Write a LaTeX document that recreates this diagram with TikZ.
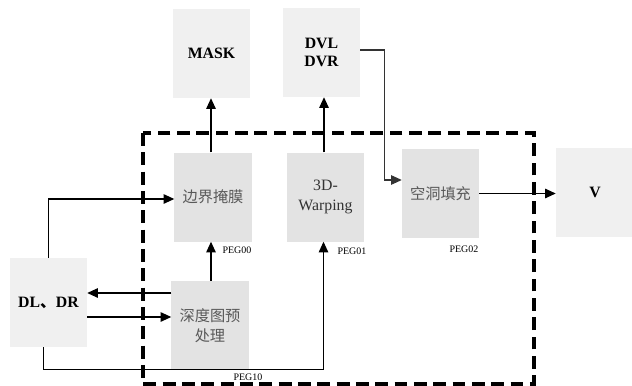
\documentclass[tikz,border=0pt]{standalone}
\usepackage{fontspec}
\setmainfont{Liberation Serif}
\newfontfamily\cjk{Noto Sans CJK SC}
\usetikzlibrary{arrows.meta,calc}
\definecolor{outerbox}{HTML}{F0F0F0}
\definecolor{innerbox}{HTML}{E3E3E3}
\begin{document}
\begin{tikzpicture}[x=0.03cm,y=-0.03cm,
  outer/.style={fill=outerbox,draw=none,minimum width=2.31cm,minimum height=2.67cm,inner sep=0pt,align=center,font=\fontsize{13.5}{15}\selectfont\bfseries},
  inner/.style={fill=innerbox,draw=none,minimum width=2.31cm,minimum height=2.67cm,inner sep=0pt,align=center,text=black!65},
  cn/.style={font=\cjk\fontsize{13}{17}\selectfont},
  arr/.style={line width=1.1pt,-{Triangle[length=9pt,width=8pt]}},
  peg/.style={font=\fontsize{8.5}{9}\selectfont,inner sep=0pt},
  dashbox/.style={line width=2.6pt,dash pattern=on 11pt off 5.5pt}]
\useasboundingbox (0,0) rectangle (632,386);
\fill[white] (0,0) rectangle (632,386);
\node[outer] (mask) at (211.5,53.5) {MASK};
\node[outer] (dvl) at (321.5,52.5) {DVL\\DVR};
\node[inner,cn] (bj) at (213,197) {边界掩膜};
\node[inner,text=black!80,font=\fontsize{13.5}{17}\selectfont] (wp) at (325.5,197) {3D-\\Warping};
\node[inner,cn] (kd) at (440.5,193.5) {空洞填充};
\node[outer,minimum width=2.34cm] (v) at (595,192.5) {V};
\node[outer] (dl) at (48.5,302.5) {DL{\cjk 、}DR};
\node[inner,cn] (sd) at (210,325.5) {深度图预\\处理};
\draw[dashbox] (143,133) rectangle (534,384);
\path (sd.north) ++(1,0) coordinate (c1);
\path (bj.north) ++(-2,0) coordinate (c2);
\path (wp.north) ++(-1.5,0) coordinate (c3);
\path (dl.south) ++(-5,0) coordinate (c4);
\path (wp.south) ++(-2,0) coordinate (c5);
\path (dvl.east) ++(0,-2.5) coordinate (c6);
\path (kd.west) ++(0,-13.5) coordinate (c7);
\path (sd.west) ++(0,-32.5) coordinate (c8);
\path (dl.east) ++(0,14.5) coordinate (c9);
\path (bj.west) ++(0,2) coordinate (c10);
\draw[arr] (dl.north) |- (c10);
\draw[arr] (c8) -- (c8 -| dl.east);
\draw[arr] (c9) -- (c9 -| sd.west);
\draw[arr] (c1) -- (c1 |- bj.south);
\draw[arr] (c4) -- ++(0,22) -| (c5);
\draw[arr] (c2) -- (c2 |- mask.south);
\draw[arr] (c3) -- (c3 |- dvl.south);
\draw[arr,line width=0.9pt,draw=black!80] (c6) -- ++(24,0) |- (c7);
\draw[arr] (kd.east) -- (kd.east -| v.west);
\node[peg] (p00) at (237,250) {PEG00};
\node[peg] (p01) at (352,251) {PEG01};
\node[peg] (p02) at (464,249) {PEG02};
\node[peg] (p10) at (248,377) {PEG10};
\end{tikzpicture}
\end{document}
